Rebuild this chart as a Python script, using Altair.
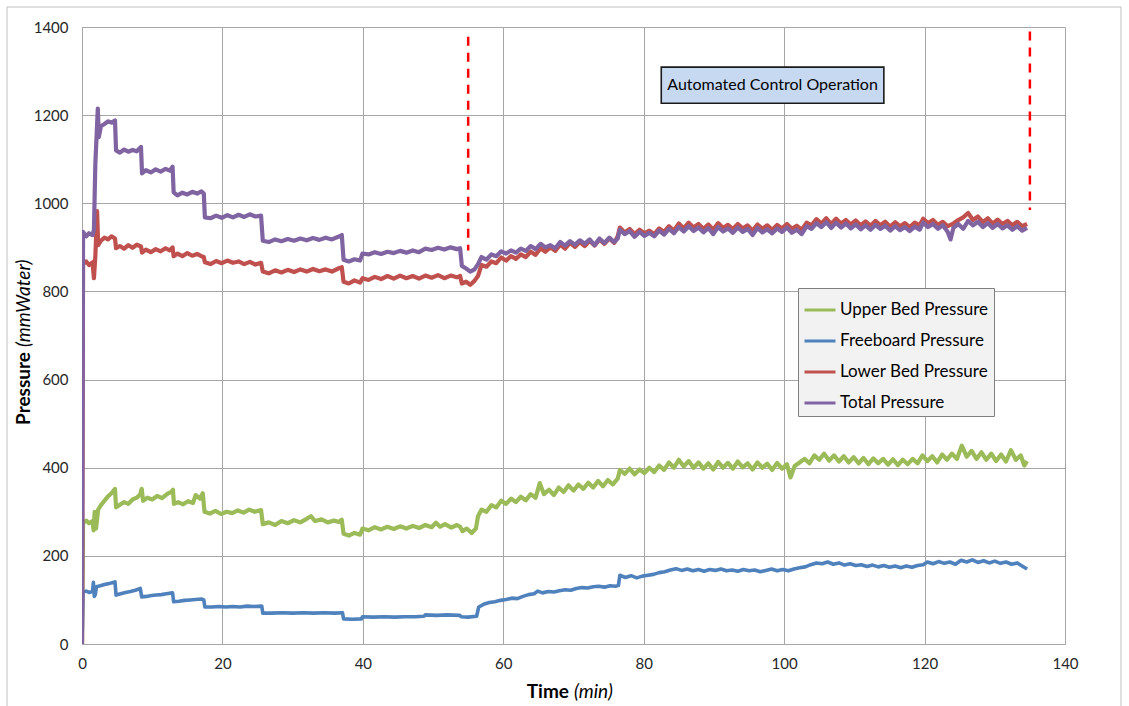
import altair as alt
import pandas as pd

FONT = "Lato"

series_names = ["Upper Bed Pressure", "Freeboard Pressure", "Lower Bed Pressure", "Total Pressure"]
series_colors = ["#9BBB59", "#4F81BD", "#C0504D", "#8064A2"]
series_widths = [4.2, 3.6, 4.2, 4.2]

# (time min, pressure mmWater)
upper_bed = [(0,0),(0.15,275),(0.6,280),(1.0,274),(1.5,279),(1.65,258),(1.8,300),(2.0,262),(2.3,305),(2.7,315),(3.2,325),(3.7,335),(4.2,342),(4.7,352),(4.85,310),(5.4,316),(6.0,322),(6.6,318),(7.2,328),(7.8,332),(8.3,340),(8.5,352),(8.7,325),(9.3,332),(10.0,328),(10.7,336),(11.4,331),(12.1,340),(12.7,345),(12.95,350),(13.1,318),(13.7,322),(14.4,317),(15.1,324),(15.8,320),(16.2,338),(16.8,330),(17.2,342),(17.45,300),(18.2,296),(19.0,302),(19.8,295),(20.6,300),(21.4,297),(22.2,303),(23.0,298),(23.8,305),(24.6,300),(25.5,304),(25.75,272),(26.6,276),(27.5,270),(28.4,279),(29.3,274),(30.2,281),(31.1,276),(32.0,284),(32.6,290),(33.2,279),(34.1,283),(35.0,276),(35.9,280),(36.6,277),(37.0,282),(37.25,250),(38.0,246),(38.8,252),(39.6,248),(39.95,262),(40.8,258),(41.7,265),(42.6,260),(43.5,266),(44.4,261),(45.3,267),(46.2,262),(47.1,268),(48.0,263),(48.9,270),(49.8,265),(50.4,275),(51.0,266),(51.7,272),(52.6,264),(53.4,270),(53.85,266),(54.2,256),(54.8,262),(55.5,252),(56.1,262),(56.4,290),(56.9,305),(57.6,300),(58.3,315),(59.0,310),(59.7,325),(60.4,318),(61.1,330),(61.8,322),(62.5,334),(63.2,326),(63.9,340),(64.6,332),(65.2,365),(65.8,340),(66.5,350),(67.2,338),(67.9,355),(68.6,345),(69.3,360),(70.0,348),(70.7,362),(71.4,352),(72.1,366),(72.8,355),(73.5,370),(74.2,358),(74.9,372),(75.6,362),(76.3,375),(76.6,395),(77.3,386),(78.0,398),(78.7,385),(79.4,396),(80.1,388),(80.8,400),(81.5,390),(82.2,405),(82.9,395),(83.6,412),(84.3,400),(85.0,418),(85.7,403),(86.4,415),(87.1,400),(87.8,412),(88.5,398),(89.2,410),(89.9,396),(90.6,413),(91.3,400),(92.0,411),(92.7,398),(93.4,414),(94.1,401),(94.8,410),(95.5,396),(96.2,412),(96.9,400),(97.6,409),(98.3,395),(99.0,411),(99.7,398),(100.4,408),(100.9,378),(101.5,404),(102.2,412),(102.9,420),(103.6,410),(104.3,428),(105.0,418),(105.7,432),(106.4,416),(107.1,428),(107.8,414),(108.5,426),(109.2,412),(109.9,424),(110.6,410),(111.3,422),(112.0,408),(112.7,421),(113.4,410),(114.1,420),(114.8,407),(115.5,419),(116.2,406),(116.9,418),(117.6,408),(118.3,420),(119.0,410),(119.7,428),(120.4,415),(121.1,426),(121.8,412),(122.5,430),(123.2,418),(123.9,432),(124.6,420),(125.3,450),(126.0,425),(126.7,438),(127.4,420),(128.1,435),(128.8,418),(129.5,432),(130.2,415),(130.9,430),(131.6,414),(132.3,440),(133.0,418),(133.7,428),(134.2,405),(134.6,415)]

freeboard = [(0,0),(0.15,118),(0.6,120),(1.0,117),(1.5,119),(1.62,140),(1.75,108),(1.9,112),(2.05,130),(2.6,132),(3.2,135),(3.8,137),(4.3,139),(4.7,141),(4.85,111),(5.5,114),(6.2,117),(6.9,119),(7.6,122),(8.3,126),(8.5,107),(9.2,108),(9.9,110),(10.6,111),(11.3,112),(12.0,114),(12.9,116),(13.05,96),(13.8,97),(14.6,99),(15.4,100),(16.2,101),(17.0,102),(17.35,100),(17.5,84),(18.5,84),(19.5,85),(20.5,84),(21.5,85),(22.5,84),(23.5,86),(24.5,85),(25.6,86),(25.75,70),(27.0,70),(28.5,71),(30.0,70),(31.5,71),(33.0,70),(34.5,71),(36.0,70),(37.1,71),(37.25,57),(38.5,56),(39.8,57),(39.95,62),(41.5,61),(43.0,62),(44.5,61),(46.0,62),(47.5,62),(48.7,63),(48.9,66),(50.5,65),(52.0,66),(53.8,65),(54.0,62),(55.0,61),(56.2,63),(56.5,84),(57.2,90),(58.0,94),(58.8,96),(59.6,99),(60.4,101),(61.2,104),(62.0,103),(62.8,108),(63.6,112),(64.4,114),(64.9,120),(65.6,116),(66.4,119),(67.2,118),(68.0,121),(68.8,123),(69.6,122),(70.4,126),(71.2,128),(72.0,127),(72.8,130),(73.6,131),(74.4,129),(75.2,132),(76.0,131),(76.4,133),(76.6,156),(77.4,151),(78.2,155),(79.0,150),(79.8,154),(80.6,156),(81.4,158),(82.2,162),(83.0,164),(83.8,168),(84.6,171),(85.4,167),(86.2,170),(87.0,166),(87.8,169),(88.6,165),(89.4,169),(90.2,167),(91.0,170),(91.8,166),(92.6,168),(93.4,165),(94.2,169),(95.0,166),(95.8,168),(96.6,164),(97.4,167),(98.2,170),(99.0,166),(99.8,169),(100.6,166),(101.4,170),(102.2,173),(103.0,175),(103.8,180),(104.6,184),(105.4,182),(106.2,186),(107.0,181),(107.8,184),(108.6,179),(109.4,182),(110.2,178),(111.0,180),(111.8,176),(112.6,179),(113.4,175),(114.2,178),(115.0,174),(115.8,177),(116.6,173),(117.4,177),(118.2,174),(119.0,178),(119.8,180),(120.4,186),(121.2,182),(122.0,187),(122.8,183),(123.6,186),(124.4,181),(125.2,190),(126.0,186),(126.8,191),(127.6,185),(128.4,189),(129.2,184),(130.0,188),(130.8,183),(131.6,186),(132.4,181),(133.2,184),(134.0,176),(134.6,170)]

lower_bed = [(0,0),(0.15,862),(0.6,868),(1.0,860),(1.5,866),(1.7,830),(1.9,880),(2.15,982),(2.3,905),(2.7,915),(3.2,922),(3.7,918),(4.2,925),(4.7,920),(4.85,898),(5.4,903),(6.0,897),(6.6,905),(7.2,899),(7.8,906),(8.4,902),(8.55,888),(9.1,895),(9.8,889),(10.5,896),(11.2,891),(11.9,898),(12.5,893),(12.9,900),(13.05,880),(13.6,886),(14.3,880),(15.0,887),(15.7,881),(16.4,885),(17.0,880),(17.35,878),(17.5,866),(18.3,862),(19.1,869),(19.9,864),(20.7,870),(21.5,865),(22.3,868),(23.1,862),(23.9,867),(24.7,861),(25.5,865),(25.75,845),(26.6,841),(27.5,848),(28.4,843),(29.3,849),(30.2,844),(31.1,850),(32.0,845),(32.9,851),(33.8,846),(34.7,850),(35.6,845),(36.5,852),(37.0,855),(37.25,822),(38.0,818),(38.8,825),(39.6,820),(39.95,830),(40.8,826),(41.7,833),(42.6,828),(43.5,835),(44.4,829),(45.3,836),(46.2,830),(47.1,835),(48.0,829),(48.9,836),(49.8,831),(50.7,837),(51.6,830),(52.5,836),(53.4,832),(53.85,835),(54.1,818),(54.7,822),(55.3,815),(55.9,824),(56.4,835),(56.9,860),(57.6,856),(58.3,868),(59.0,864),(59.7,877),(60.4,870),(61.1,880),(61.8,874),(62.5,884),(63.2,878),(63.9,890),(64.6,883),(65.3,898),(66.0,890),(66.7,900),(67.4,892),(68.1,906),(68.8,897),(69.5,910),(70.2,901),(70.9,912),(71.6,903),(72.3,915),(73.0,904),(73.7,918),(74.4,908),(75.1,920),(75.8,910),(76.3,925),(76.6,945),(77.3,934),(78.0,942),(78.7,930),(79.4,940),(80.1,932),(80.8,938),(81.5,930),(82.2,943),(82.9,935),(83.6,948),(84.3,938),(85.0,954),(85.7,943),(86.4,956),(87.1,945),(87.8,953),(88.5,942),(89.2,952),(89.9,940),(90.6,955),(91.3,944),(92.0,951),(92.7,941),(93.4,953),(94.1,943),(94.8,950),(95.5,938),(96.2,952),(96.9,942),(97.6,950),(98.3,940),(99.0,951),(99.7,943),(100.4,953),(101.1,942),(101.8,949),(102.5,940),(103.2,956),(103.9,950),(104.6,964),(105.3,954),(106.0,966),(106.7,953),(107.4,965),(108.1,954),(108.8,962),(109.5,952),(110.2,961),(110.9,950),(111.6,959),(112.3,949),(113.0,960),(113.7,950),(114.4,958),(115.1,947),(115.8,957),(116.5,948),(117.2,955),(117.9,946),(118.6,956),(119.3,950),(119.8,965),(120.5,955),(121.2,962),(121.9,951),(122.6,958),(123.3,948),(124.1,954),(124.8,962),(125.5,968),(126.2,978),(126.9,962),(127.6,970),(128.3,957),(129.0,966),(129.7,954),(130.4,963),(131.1,953),(131.8,960),(132.5,950),(133.2,958),(133.9,948),(134.6,953)]

total = [(0,0),(0.15,935),(0.6,925),(1.0,932),(1.5,928),(1.7,940),(1.9,1090),(2.1,1160),(2.25,1215),(2.4,1150),(2.7,1175),(3.2,1180),(3.7,1186),(4.2,1183),(4.7,1188),(4.85,1120),(5.4,1115),(6.0,1122),(6.6,1117),(7.2,1121),(7.8,1118),(8.4,1128),(8.55,1068),(9.1,1075),(9.8,1070),(10.5,1077),(11.2,1072),(11.9,1078),(12.5,1074),(12.9,1083),(13.05,1025),(13.6,1018),(14.3,1024),(15.0,1020),(15.7,1026),(16.4,1022),(17.0,1027),(17.35,1022),(17.5,968),(18.3,966),(19.1,972),(19.9,967),(20.7,973),(21.5,968),(22.3,974),(23.1,969),(23.9,975),(24.7,970),(25.5,972),(25.75,915),(26.6,912),(27.5,918),(28.4,914),(29.3,919),(30.2,915),(31.1,920),(32.0,916),(32.9,921),(33.8,917),(34.7,922),(35.6,918),(36.5,924),(37.0,928),(37.25,872),(38.0,868),(38.8,873),(39.6,870),(39.95,886),(40.8,884),(41.7,889),(42.6,885),(43.5,890),(44.4,887),(45.3,892),(46.2,888),(47.1,893),(48.0,889),(48.9,897),(49.8,894),(50.7,899),(51.6,895),(52.5,900),(53.4,896),(53.85,898),(54.1,858),(54.7,852),(55.3,845),(55.9,850),(56.4,862),(56.9,878),(57.6,872),(58.3,884),(59.0,880),(59.7,891),(60.4,886),(61.1,893),(61.8,888),(62.5,897),(63.2,892),(63.9,903),(64.6,896),(65.3,908),(66.0,900),(66.7,905),(67.4,898),(68.1,912),(68.8,904),(69.5,914),(70.2,906),(70.9,916),(71.6,908),(72.3,918),(73.0,905),(73.7,920),(74.4,910),(75.1,922),(75.8,912),(76.3,920),(76.6,940),(77.3,930),(78.0,937),(78.7,924),(79.4,935),(80.1,926),(80.8,933),(81.5,925),(82.2,938),(82.9,929),(83.6,942),(84.3,932),(85.0,946),(85.7,936),(86.4,948),(87.1,937),(87.8,945),(88.5,934),(89.2,944),(89.9,930),(90.6,946),(91.3,936),(92.0,943),(92.7,933),(93.4,945),(94.1,935),(94.8,942),(95.5,928),(96.2,944),(96.9,934),(97.6,941),(98.3,932),(99.0,943),(99.7,935),(100.4,945),(101.1,933),(101.8,940),(102.5,930),(103.2,948),(103.9,942),(104.6,955),(105.3,946),(106.0,957),(106.7,944),(107.4,956),(108.1,945),(108.8,954),(109.5,943),(110.2,952),(110.9,941),(111.6,950),(112.3,940),(113.0,951),(113.7,942),(114.4,949),(115.1,938),(115.8,948),(116.5,939),(117.2,946),(117.9,937),(118.6,947),(119.3,940),(119.8,956),(120.5,946),(121.2,953),(121.9,942),(122.6,950),(123.3,935),(123.7,918),(124.1,944),(124.8,953),(125.5,942),(126.2,960),(126.9,950),(127.6,958),(128.3,946),(129.0,955),(129.7,944),(130.4,953),(131.1,943),(131.8,950),(132.5,940),(133.2,948),(133.9,938),(134.6,944)]

x_ticks = [0, 20, 40, 60, 80, 100, 120, 140]
y_ticks = [0, 200, 400, 600, 800, 1000, 1200, 1400]

control_time = [55, 135]
control_top = [1378, 1390]
control_bottom = [893, 985]

box_label = "Automated Control Operation"
box_time = [82.5, 114.2]
box_pressure = [1227, 1309]

# ---------------------------------------------------------------
rows = []
for name, pts in zip(series_names, [upper_bed, freeboard, lower_bed, total]):
    for order, (t, p) in enumerate(pts):
        rows.append({"series": name, "time": t, "pressure": p, "order": order})
df = pd.DataFrame(rows)

W, H = 983, 617
xscale = alt.Scale(domain=[0, 140], nice=False)
yscale = alt.Scale(domain=[0, 1400], nice=False)
color_scale = alt.Scale(domain=series_names, range=series_colors)

legend = alt.Legend(
    title=None, orient="none", legendX=716, legendY=261,
    fillColor="#f2f2f2", strokeColor="#7f7f7f", padding=5,
    symbolType="stroke", symbolSize=961, symbolStrokeWidth=3,
    labelFont=FONT, labelFontSize=17, labelColor="#000000",
    labelOffset=3, rowPadding=6, symbolOpacity=1,
)

xaxis = alt.Axis(values=x_ticks, title=None, grid=True, gridColor="#a6a6a6",
                 domainColor="#a6a6a6", ticks=False, labelFont=FONT, labelFontSize=15,
                 labelColor="#262626", labelPadding=12, labelFlush=False, format="d")
yaxis = alt.Axis(values=y_ticks, title=None, grid=True, gridColor="#a6a6a6",
                 domainColor="#a6a6a6", ticks=False, labelFont=FONT, labelFontSize=15,
                 labelColor="#262626", labelPadding=14, format="d")

layers = []

# outer chart frame
frame = alt.Chart(pd.DataFrame({"a": [0]})).mark_rect(
    fillOpacity=0, stroke="#bfbfbf", strokeWidth=1
).encode(x=alt.value(-75), x2=alt.value(1039), y=alt.value(-20), y2=alt.value(700))
layers.append(frame)

for i, name in enumerate(series_names):
    lay = alt.Chart(df).transform_filter(alt.datum.series == name).mark_line(
        strokeWidth=series_widths[i], strokeJoin="round", clip=True
    ).encode(
        x=alt.X("time:Q", scale=xscale, axis=xaxis),
        y=alt.Y("pressure:Q", scale=yscale, axis=yaxis),
        color=alt.Color("series:N", scale=color_scale, legend=legend),
        order="order:Q",
    )
    layers.append(lay)

ctrl_df = pd.DataFrame({"time": control_time, "top": control_top, "bottom": control_bottom})
ctrl = alt.Chart(ctrl_df).mark_rule(color="#ff0000", strokeWidth=2.5, strokeDash=[9, 7]).encode(
    x=alt.X("time:Q", scale=xscale), y=alt.Y("top:Q", scale=yscale), y2="bottom:Q"
)
layers.append(ctrl)

box_df = pd.DataFrame({"t0": [box_time[0]], "t1": [box_time[1]], "p0": [box_pressure[0]],
                       "p1": [box_pressure[1]], "label": [box_label],
                       "tm": [(box_time[0] + box_time[1]) / 2],
                       "pm": [(box_pressure[0] + box_pressure[1]) / 2]})
box = alt.Chart(box_df).mark_rect(fill="#c6d9f1", stroke="#1a1a1a", strokeWidth=1.6).encode(
    x=alt.X("t0:Q", scale=xscale), x2="t1:Q", y=alt.Y("p0:Q", scale=yscale), y2="p1:Q"
)
box_text = alt.Chart(box_df).mark_text(font=FONT, fontSize=16, color="#000000",
                                       align="center", baseline="middle").encode(
    x=alt.X("tm:Q", scale=xscale), y=alt.Y("pm:Q", scale=yscale), text="label:N"
)
layers += [box, box_text]

one = pd.DataFrame({"a": [0]})
t_bold = alt.Chart(one).mark_text(font=FONT, fontSize=19, fontWeight="bold", color="#000000",
                                  align="right", baseline="middle").encode(
    x=alt.value(487), y=alt.value(665), text=alt.value("Time"))
t_ital = alt.Chart(one).mark_text(font=FONT, fontSize=19, fontStyle="italic", color="#000000",
                                  align="left", baseline="middle").encode(
    x=alt.value(492), y=alt.value(665), text=alt.value("(min)"))
p_bold = alt.Chart(one).mark_text(font=FONT, fontSize=19, fontWeight="bold", color="#000000",
                                  align="right", baseline="middle", angle=270).encode(
    x=alt.value(-58), y=alt.value(325), text=alt.value("Pressure"))
p_ital = alt.Chart(one).mark_text(font=FONT, fontSize=19, fontStyle="italic", color="#000000",
                                  align="left", baseline="middle", angle=270).encode(
    x=alt.value(-58), y=alt.value(320), text=alt.value("(mmWater)"))
layers += [t_bold, t_ital, p_bold, p_ital]

chart = alt.layer(*layers).properties(
    width=W, height=H,
    autosize=alt.AutoSizeParams(type="none"),
    padding={"left": 82, "top": 27, "right": 64, "bottom": 62},
).configure_view(stroke="#a6a6a6").configure(background="white")

chart.save("out.html", embed_options={"renderer": "svg", "actions": False})
